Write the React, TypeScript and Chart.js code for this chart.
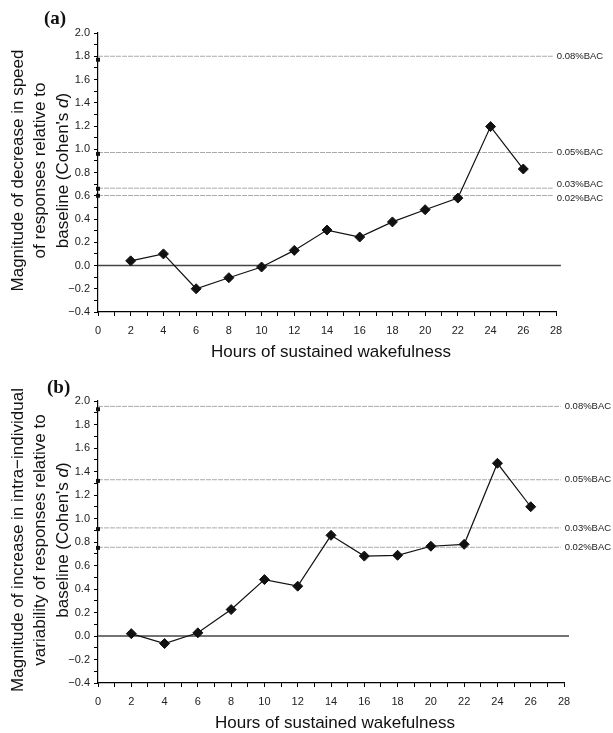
import React, { useEffect, useRef } from "react";
import { Chart, registerables } from "chart.js";
Chart.register(...registerables);

// ---------- data ----------
const hours = [2, 4, 6, 8, 10, 12, 14, 16, 18, 20, 22, 24, 26];
const speedD = [0.04, 0.1, -0.2, -0.105, -0.013, 0.13, 0.305, 0.245, 0.375, 0.48, 0.58, 1.195, 0.83];
const variabilityD = [0.02, -0.064, 0.027, 0.225, 0.48, 0.424, 0.857, 0.68, 0.687, 0.764, 0.78, 1.47, 1.1];
const bacLabels = ["0.08%BAC", "0.05%BAC", "0.03%BAC", "0.02%BAC"];
const speedBAC = [1.8, 0.972, 0.665, 0.602];
const speedBACMarks = [1.77, 0.96, 0.66, 0.6];
const variabilityBAC = [1.954, 1.33, 0.92, 0.755];
const variabilityBACMarks = [1.93, 1.32, 0.91, 0.75];
const xRange = [0, 28];
const yRange = [-0.4, 2.0];
const refLineEnd = 27.8;
const zeroLineEnd = 28.3;
const xTitle = "Hours of sustained wakefulness";
const speedTitle = ["Magnitude of decrease in speed", "of responses relative to", "baseline (Cohen's *d*)"];
const variabilityTitle = [
  "Magnitude of increase in intra\u2212individual",
  "variability of responses relative to",
  "baseline (Cohen's *d*)",
];

const SANS = '"Liberation Sans", Arial, Helvetica, sans-serif';

type PanelCfg = {
  tag: string;
  values: number[];
  bac: number[];
  marks: number[];
  yTitle: string[];
  top: number;
  height: number;
  padTop: number;
  xAxisHeight: number;
  padRight: number;
  tagX: number;
  tagY: number;
};

function drawMixed(ctx: CanvasRenderingContext2D, text: string, size: number) {
  const parts = text.split("*");
  const fonts = parts.map((_, i) => (i % 2 === 1 ? `italic ${size}px ${SANS}` : `${size}px ${SANS}`));
  let total = 0;
  const widths = parts.map((p, i) => {
    ctx.font = fonts[i];
    const w = ctx.measureText(p).width;
    total += w;
    return w;
  });
  let x = -total / 2;
  ctx.textAlign = "left";
  parts.forEach((p, i) => {
    ctx.font = fonts[i];
    ctx.fillText(p, x, 0);
    x += widths[i];
  });
}

function Panel({ cfg }: { cfg: PanelCfg }) {
  const ref = useRef<HTMLCanvasElement | null>(null);
  useEffect(() => {
    const canvas = ref.current;
    if (!canvas) return;

    const textPlugin = {
      id: "panelText",
      afterDraw(chart: any) {
        const ctx = chart.ctx as CanvasRenderingContext2D;
        const ca = chart.chartArea;
        const xs = chart.scales.x;
        const ys = chart.scales.y;
        ctx.save();
        ctx.fillStyle = "#111";
        ctx.textBaseline = "middle";
        // panel tag
        ctx.font = `bold 19px "Liberation Serif", "Times New Roman", serif`;
        ctx.textAlign = "left";
        ctx.fillText(cfg.tag, cfg.tagX, cfg.tagY);
        // x title
        ctx.font = `17px ${SANS}`;
        ctx.textAlign = "center";
        ctx.fillText(xTitle, (ca.left + ca.right) / 2 + 4, ca.bottom + 40);
        // y title
        const cy = (ca.top + ca.bottom) / 2 - 2;
        cfg.yTitle.forEach((line, i) => {
          ctx.save();
          ctx.translate(18 + i * 22.5, cy);
          ctx.rotate(-Math.PI / 2);
          drawMixed(ctx, line, 17);
          ctx.restore();
        });
        // BAC labels
        const lx = xs.getPixelForValue(refLineEnd) + 4;
        const items = cfg.bac.map((v, i) => ({ y: ys.getPixelForValue(v), t: bacLabels[i] }));
        items.sort((a, b) => a.y - b.y);
        const minGap = 14;
        for (let i = 1; i < items.length; i++) {
          const gap = items[i].y - items[i - 1].y;
          if (gap < minGap) {
            const d = (minGap - gap) / 2;
            items[i - 1].y -= d;
            items[i].y += d;
          }
        }
        ctx.font = `9.5px ${SANS}`;
        ctx.fillStyle = "#222";
        ctx.textAlign = "left";
        items.forEach((it) => ctx.fillText(it.t, lx, it.y));
        ctx.restore();
      },
    };

    const datasets: any[] = [
      {
        data: hours.map((h, i) => ({ x: h, y: cfg.values[i] })),
        borderColor: "#111",
        borderWidth: 1.2,
        pointStyle: "rectRot",
        pointRadius: 5,
        pointBackgroundColor: "#111",
        pointBorderColor: "#111",
        pointBorderWidth: 1,
        tension: 0,
      },
      {
        data: cfg.marks.map((m) => ({ x: 0, y: m })),
        showLine: false,
        pointStyle: "rect",
        pointRadius: 2.8,
        pointBackgroundColor: "#111",
        pointBorderColor: "#111",
        pointBorderWidth: 0,
        clip: false,
      },
      ...cfg.bac.map((v) => ({
        data: [
          { x: 0, y: v },
          { x: refLineEnd, y: v },
        ],
        borderColor: "#aaaaaa",
        borderWidth: 1,
        borderDash: [5, 1],
        pointRadius: 0,
      })),
      {
        data: [
          { x: 0, y: 0 },
          { x: zeroLineEnd, y: 0 },
        ],
        borderColor: "#444",
        borderWidth: 1.3,
        pointRadius: 0,
        clip: false,
      },
    ];

    const chart = new Chart(canvas, {
      type: "line",
      data: { datasets },
      plugins: [textPlugin],
      options: {
        animation: false,
        responsive: false,
        events: [],
        layout: { padding: { top: cfg.padTop, right: cfg.padRight, left: 0, bottom: 0 } },
        plugins: { legend: { display: false }, tooltip: { enabled: false } },
        scales: {
          x: {
            type: "linear",
            min: xRange[0],
            max: xRange[1],
            afterFit: (s: any) => {
              s.height = cfg.xAxisHeight;
            },
            ticks: {
              stepSize: 1,
              autoSkip: false,
              maxRotation: 0,
              padding: 8,
              color: "#222",
              font: { family: SANS, size: 11 },
              callback: (v: any) => (Number(v) % 2 === 0 ? String(v) : ""),
            },
            grid: { drawOnChartArea: false, drawTicks: true, tickLength: 4, color: "#000" },
            border: { display: true, color: "#000", width: 1.2 },
          },
          y: {
            type: "linear",
            min: yRange[0],
            max: yRange[1],
            afterFit: (s: any) => {
              s.width = 98;
            },
            ticks: {
              stepSize: 0.1,
              autoSkip: false,
              maxTicksLimit: 100,
              padding: 4,
              color: "#222",
              font: { family: SANS, size: 11 },
              callback: (v: any) => {
                const n = Number(v);
                const k = Math.round(n * 10);
                if (k % 2 !== 0) return "";
                return (k < 0 ? "\u2212" : "") + Math.abs(k / 10).toFixed(1);
              },
            },
            grid: { drawOnChartArea: false, drawTicks: true, tickLength: 4, color: "#000" },
            border: { display: true, color: "#000", width: 1.2 },
          },
        },
      } as any,
    });
    return () => chart.destroy();
  }, [cfg]);
  return (
    <canvas
      ref={ref}
      width={613}
      height={cfg.height}
      style={{ position: "absolute", left: 0, top: cfg.top, width: 613, height: cfg.height }}
    />
  );
}

const panelA: PanelCfg = {
  tag: "(a)",
  values: speedD,
  bac: speedBAC,
  marks: speedBACMarks,
  yTitle: speedTitle,
  top: 0,
  height: 366,
  padTop: 33,
  xAxisHeight: 54,
  padRight: 57,
  tagX: 44,
  tagY: 19,
};

const panelB: PanelCfg = {
  tag: "(b)",
  values: variabilityD,
  bac: variabilityBAC,
  marks: variabilityBACMarks,
  yTitle: variabilityTitle,
  top: 366,
  height: 367,
  padTop: 35,
  xAxisHeight: 50,
  padRight: 49,
  tagX: 47,
  tagY: 22,
};

export default function App() {
  return (
    <div style={{ position: "absolute", left: 0, top: 0, width: 613, height: 733, background: "#fff" }}>
      <Panel cfg={panelA} />
      <Panel cfg={panelB} />
    </div>
  );
}
